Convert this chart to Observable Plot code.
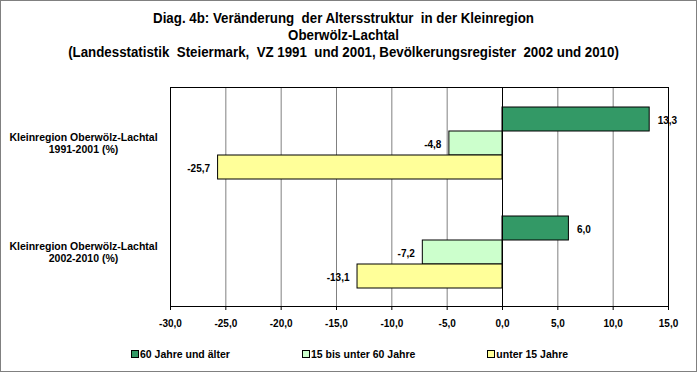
<!DOCTYPE html>
<html><head><meta charset="utf-8">
<script src="https://cdn.jsdelivr.net/npm/d3@7"></script>
<script src="https://cdn.jsdelivr.net/npm/@observablehq/plot@0.6"></script>
<style>
body{margin:0;background:#fff}
#chart{position:relative;width:697px;height:372px;overflow:hidden;background:#fff;font-family:"Liberation Sans",Arial,sans-serif;color:#000}
#chart svg{position:absolute;left:0;top:0}
#border{position:absolute;left:0;top:0;width:697px;height:372px;box-sizing:border-box;border:1px solid #808080;pointer-events:none}
#title{position:absolute;left:-5px;top:10px;width:697px;text-align:center;font-family:"Liberation Sans",Arial,sans-serif;font-weight:bold;font-size:14px;line-height:17px;white-space:pre}
#title div{transform:scaleX(0.95)}
#legend{position:absolute;left:131px;top:348px;display:flex;gap:72px;font-weight:bold;font-size:10.5px;line-height:12px;white-space:pre}
#legend .item{display:flex;align-items:center}
#legend .sw{width:6px;height:6px;border:1px solid #000;margin-right:1px}
</style></head>
<body>
<div id="chart">
  <div id="title"></div>
  <div id="legend"></div>
  <div id="border"></div>
</div>
<script>
const titleLines = [
  "Diag. 4b: Veränderung  der Altersstruktur  in der Kleinregion",
  "Oberwölz-Lachtal",
  "(Landesstatistik  Steiermark,  VZ 1991  und 2001, Bevölkerungsregister  2002 und 2010)"
];
const categories = ["Kleinregion Oberwölz-Lachtal\n1991-2001 (%)", "Kleinregion Oberwölz-Lachtal\n2002-2010 (%)"];
const series = ["60 Jahre und älter", "15 bis unter 60 Jahre", "unter 15 Jahre"];
const values60plus = [13.3, 6.0];
const values15to60 = [-4.8, -7.2];
const valuesUnder15 = [-25.7, -13.1];
const xTicks = [-30, -25, -20, -15, -10, -5, 0, 5, 10, 15];
const colors = ["#339966", "#CCFFCC", "#FFFF99"];

const fmt = v => v.toFixed(1).replace(".", ",");
const seriesValues = [values60plus, values15to60, valuesUnder15];
const data = categories.flatMap((c, i) => series.map((s, j) => ({category: c, series: s, value: seriesValues[j][i]})));

const common = {width: 697, height: 372, marginLeft: 170, marginRight: 29, marginTop: 87, marginBottom: 66};
const style = {fontFamily: "'Liberation Sans', Arial, sans-serif", fontSize: "10px", fontWeight: "bold", color: "black", background: "transparent", overflow: "visible"};

const bg = Plot.plot({
  ...common, style,
  x: {domain: [-30, 15]},
  y: {type: "band", domain: categories, padding: 0, axis: null},
  marks: [
    Plot.ruleX(xTicks.slice(1, -1), {stroke: "#808080"}),
    Plot.frame({stroke: "black"}),
    Plot.axisX({ticks: xTicks, tickSize: 4, tickPadding: 9, tickFormat: fmt, label: null, anchor: "bottom"}),
    Plot.text(categories, {y: d => d, text: d => d, x: -30, textAnchor: "middle", dx: -87, lineHeight: 1.15, fontSize: 10.5})
  ]
});

const fg = Plot.plot({
  ...common, style,
  x: {domain: [-30, 15], axis: null},
  y: {domain: series, paddingInner: 0, paddingOuter: 0.735, axis: null},
  fy: {domain: categories, padding: 0, axis: null},
  color: {domain: series, range: colors},
  marks: [
    Plot.barX(data, {x: "value", y: "series", fy: "category", fill: "series", stroke: "black", strokeWidth: 1}),
    Plot.ruleX([0], {stroke: "black"}),
    Plot.text(data.filter(d => d.value >= 0), {x: "value", y: "series", fy: "category", text: d => fmt(d.value), textAnchor: "start", dx: 8, dy: 1}),
    Plot.text(data.filter(d => d.value < 0), {x: "value", y: "series", fy: "category", text: d => fmt(d.value), textAnchor: "end", dx: -8, dy: 1})
  ]
});

const chart = document.getElementById("chart");
chart.insertBefore(fg, chart.firstChild);
chart.insertBefore(bg, chart.firstChild);

const title = document.getElementById("title");
titleLines.forEach(t => { const d = document.createElement("div"); d.textContent = t; title.appendChild(d); });

const legend = document.getElementById("legend");
series.forEach((s, i) => {
  const item = document.createElement("div"); item.className = "item";
  const sw = document.createElement("span"); sw.className = "sw"; sw.style.background = colors[i];
  const tx = document.createElement("span"); tx.textContent = s;
  item.appendChild(sw); item.appendChild(tx); legend.appendChild(item);
});
</script>
</body></html>
